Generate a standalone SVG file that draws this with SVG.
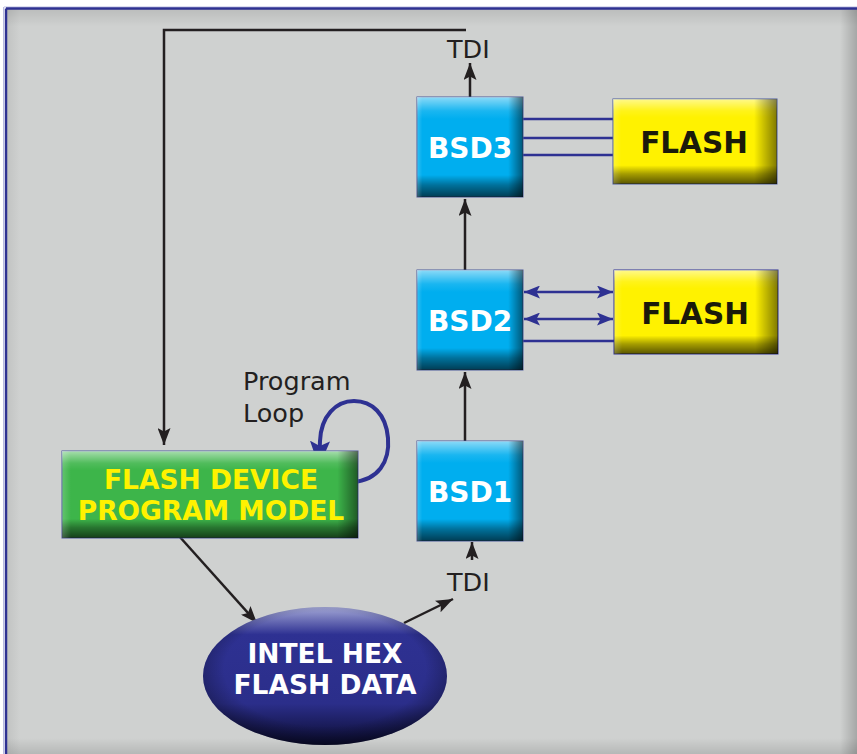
<svg xmlns="http://www.w3.org/2000/svg" width="857" height="754" viewBox="0 0 857 754">
<defs>
<style>
.lbl{font-family:"DejaVu Sans","Verdana",sans-serif;font-size:25.5px;fill:#231f20}
.bt{font-family:"DejaVu Sans","Verdana",sans-serif;font-weight:bold;text-anchor:middle}
.blk{stroke:#231f20;stroke-width:2.5;fill:none}
.nav{stroke:#2e3192;stroke-width:2.6;fill:none}
</style>
<marker id="ah" viewBox="0 0 17 13" refX="17" refY="6.5" markerWidth="17" markerHeight="13" markerUnits="userSpaceOnUse" orient="auto">
<path d="M0,0 L17,6.5 L0,13 L3.5,6.5 z" fill="#231f20"/>
</marker>
<marker id="bh" viewBox="0 0 16 13" refX="16" refY="6.5" markerWidth="16" markerHeight="13" markerUnits="userSpaceOnUse" orient="auto-start-reverse">
<path d="M0,0 L16,6.5 L0,13 L3.5,6.5 z" fill="#2e3192"/>
</marker>
<marker id="lh" viewBox="0 0 26 20" refX="26" refY="10" markerWidth="26" markerHeight="20" markerUnits="userSpaceOnUse" orient="auto">
<path d="M0,0 L26,10 L0,20 L5,10 z" fill="#2e3192"/>
</marker>
<linearGradient id="vshade" x1="0" y1="0" x2="0" y2="1">
<stop offset="0" stop-color="#fff" stop-opacity="0.55"/>
<stop offset="0.14" stop-color="#fff" stop-opacity="0.1"/>
<stop offset="0.22" stop-color="#fff" stop-opacity="0"/>
<stop offset="0.78" stop-color="#000" stop-opacity="0"/>
<stop offset="0.88" stop-color="#000" stop-opacity="0.35"/>
<stop offset="1" stop-color="#000" stop-opacity="0.65"/>
</linearGradient>
<linearGradient id="hshade" x1="0" y1="0" x2="1" y2="0">
<stop offset="0" stop-color="#fff" stop-opacity="0.2"/>
<stop offset="0.05" stop-color="#fff" stop-opacity="0"/>
<stop offset="0.86" stop-color="#000" stop-opacity="0"/>
<stop offset="1" stop-color="#000" stop-opacity="0.5"/>
</linearGradient>
<linearGradient id="hshadeW" x1="0" y1="0" x2="1" y2="0">
<stop offset="0" stop-color="#fff" stop-opacity="0.2"/>
<stop offset="0.03" stop-color="#fff" stop-opacity="0"/>
<stop offset="0.93" stop-color="#000" stop-opacity="0"/>
<stop offset="1" stop-color="#000" stop-opacity="0.5"/>
</linearGradient>
<linearGradient id="ell" x1="0" y1="0" x2="0" y2="1">
<stop offset="0" stop-color="#a3a7d6"/>
<stop offset="0.2" stop-color="#2e3192"/>
<stop offset="0.7" stop-color="#2b2e8a"/>
<stop offset="1" stop-color="#0b0c30"/>
</linearGradient>
<radialGradient id="ellr" cx="0.5" cy="0.45" r="0.55">
<stop offset="0.75" stop-color="#000" stop-opacity="0"/>
<stop offset="1" stop-color="#000" stop-opacity="0.35"/>
</radialGradient>
<linearGradient id="bgT" x1="0" y1="0" x2="0" y2="1">
<stop offset="0" stop-color="#000" stop-opacity="0.1"/>
<stop offset="1" stop-color="#000" stop-opacity="0"/>
</linearGradient>
<linearGradient id="bgB" x1="0" y1="0" x2="0" y2="1">
<stop offset="0" stop-color="#000" stop-opacity="0"/>
<stop offset="1" stop-color="#000" stop-opacity="0.12"/>
</linearGradient>
<linearGradient id="bgR" x1="0" y1="0" x2="1" y2="0">
<stop offset="0" stop-color="#000" stop-opacity="0"/>
<stop offset="1" stop-color="#000" stop-opacity="0.2"/>
</linearGradient>
<linearGradient id="bgL" x1="0" y1="0" x2="1" y2="0">
<stop offset="0" stop-color="#000" stop-opacity="0.07"/>
<stop offset="1" stop-color="#000" stop-opacity="0"/>
</linearGradient>
</defs>

<g id="background">
<rect x="0" y="0" width="857" height="754" fill="#ffffff"/>
<rect x="6" y="8.5" width="851" height="746" fill="#cfd1d0"/>
<rect x="6" y="8.5" width="851" height="18" fill="url(#bgT)"/>
<rect x="6" y="8.5" width="14" height="746" fill="url(#bgL)"/>
<rect x="6" y="738" width="851" height="16" fill="url(#bgB)"/>
<rect x="840" y="8.5" width="17" height="746" fill="url(#bgR)"/>
<line x1="4" y1="7" x2="857" y2="7" stroke="#b9bbe0" stroke-width="1"/>
<line x1="3.5" y1="7" x2="3.5" y2="754" stroke="#b9bbe0" stroke-width="1"/>
<line x1="6" y1="8.5" x2="857" y2="8.5" stroke="#2e3192" stroke-width="2.5"/>
<line x1="6" y1="8.5" x2="6" y2="754" stroke="#2e3192" stroke-width="2.5"/>
</g>

<g id="connectors">
<path class="blk" d="M466,30 H164 V445" marker-end="url(#ah)"/>
<path class="blk" d="M470,97 V63" marker-end="url(#ah)"/>
<path class="blk" d="M465,270 V199" marker-end="url(#ah)"/>
<path class="blk" d="M465,441 V372" marker-end="url(#ah)"/>
<path class="blk" d="M472,560 V542" marker-end="url(#ah)"/>
<path class="blk" d="M179,536 L257,623" marker-end="url(#ah)"/>
<path class="blk" d="M404,623 L453,599" marker-end="url(#ah)"/>
<path class="nav" d="M523,119 H613"/>
<path class="nav" d="M523,138 H613"/>
<path class="nav" d="M523,155 H613"/>
<path class="nav" d="M524,292 H613" marker-start="url(#bh)" marker-end="url(#bh)"/>
<path class="nav" d="M524,319 H613" marker-start="url(#bh)" marker-end="url(#bh)"/>
<path class="nav" d="M523,341 H614"/>
<path d="M353,482 C378,480 390,462 388,438 C386,414 372,401 354,401 C336,401 321,416 320,441 L319,467" fill="none" stroke="#2e3192" stroke-width="4" marker-end="url(#lh)"/>
</g>

<g id="tdi-top"><text class="lbl" x="447" y="58">TDI</text></g>
<g id="tdi-bottom"><text class="lbl" x="447" y="591">TDI</text></g>
<g id="program-loop-label">
<text class="lbl" x="243" y="390">Program</text>
<text class="lbl" x="243" y="422">Loop</text>
</g>

<g id="bsd3">
<rect x="417" y="97" width="106" height="100" fill="#00aeef" stroke="#4b5a9a" stroke-width="1"/>
<rect x="417" y="97" width="106" height="100" fill="url(#vshade)"/>
<rect x="417" y="97" width="106" height="100" fill="url(#hshade)"/>
<text class="bt" x="470" y="158" font-size="28" fill="#ffffff">BSD3</text>
</g>
<g id="bsd2">
<rect x="417" y="270" width="106" height="100" fill="#00aeef" stroke="#4b5a9a" stroke-width="1"/>
<rect x="417" y="270" width="106" height="100" fill="url(#vshade)"/>
<rect x="417" y="270" width="106" height="100" fill="url(#hshade)"/>
<text class="bt" x="470" y="331" font-size="28" fill="#ffffff">BSD2</text>
</g>
<g id="bsd1">
<rect x="417" y="441" width="106" height="100" fill="#00aeef" stroke="#4b5a9a" stroke-width="1"/>
<rect x="417" y="441" width="106" height="100" fill="url(#vshade)"/>
<rect x="417" y="441" width="106" height="100" fill="url(#hshade)"/>
<text class="bt" x="470" y="502" font-size="28" fill="#ffffff">BSD1</text>
</g>
<g id="flash1">
<rect x="613" y="99" width="164" height="85" fill="#fff200" stroke="#4b5a9a" stroke-width="1"/>
<rect x="613" y="99" width="164" height="85" fill="url(#vshade)"/>
<rect x="613" y="99" width="164" height="85" fill="url(#hshade)"/>
<text class="bt" x="694" y="153" font-size="29.5" fill="#1a1a0a">FLASH</text>
</g>
<g id="flash2">
<rect x="614" y="270" width="164" height="84" fill="#fff200" stroke="#2e3192" stroke-width="1"/>
<rect x="614" y="270" width="164" height="84" fill="url(#vshade)"/>
<rect x="614" y="270" width="164" height="84" fill="url(#hshade)"/>
<text class="bt" x="695" y="324" font-size="29.5" fill="#1a1a0a">FLASH</text>
</g>
<g id="flash-device-program-model">
<rect x="62" y="451" width="296" height="87" fill="#3db54a" stroke="#4b5a9a" stroke-width="1"/>
<rect x="62" y="451" width="296" height="87" fill="url(#vshade)"/>
<rect x="62" y="451" width="296" height="87" fill="url(#hshadeW)"/>
<text class="bt" x="211" y="489" font-size="26.5" fill="#fff200">FLASH DEVICE</text>
<text class="bt" x="211" y="520" font-size="26.5" fill="#fff200">PROGRAM MODEL</text>
</g>
<g id="intel-hex-flash-data">
<ellipse cx="325" cy="676" rx="122" ry="69" fill="url(#ell)"/>
<ellipse cx="325" cy="676" rx="122" ry="69" fill="url(#ellr)"/>
<text class="bt" x="325" y="663" font-size="26.5" fill="#ffffff">INTEL HEX</text>
<text class="bt" x="325" y="694" font-size="26.5" fill="#ffffff">FLASH DATA</text>
</g>
</svg>
